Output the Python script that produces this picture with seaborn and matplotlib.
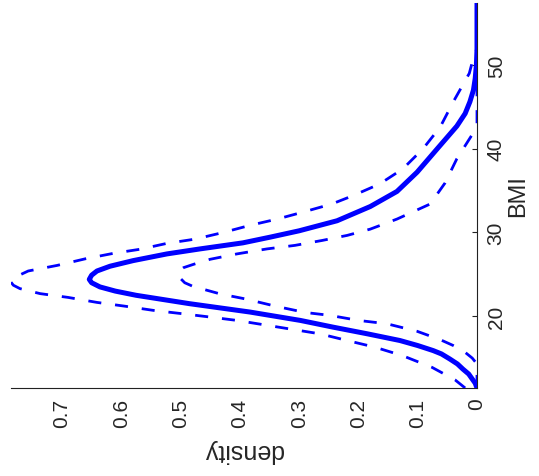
import matplotlib
matplotlib.use("Agg")
import matplotlib.pyplot as plt
import seaborn as sns

# Posterior density of BMI: mean curve and the two band limits
bmi_mean = [11.43, 12.0, 12.5, 13.1, 13.7, 14.3, 14.9, 15.5, 15.9, 16.5, 17.1, 17.9,
            18.7, 19.5, 20.5, 21.5, 22.5, 23.0, 23.5, 24.0, 24.4, 24.9, 25.4, 25.97,
            26.64, 27.44, 28.04, 28.76, 29.44, 30.2, 31.4, 33.1, 34.9, 37.2, 40.0,
            42.7, 44.2, 45.6, 47.0, 48.4, 50.0, 51.9, 57.4]
dens_mean = [0.0, 0.003, 0.008, 0.014, 0.024, 0.033, 0.046, 0.060, 0.074, 0.100, 0.130, 0.185,
             0.243, 0.298, 0.383, 0.485, 0.575, 0.610, 0.636, 0.650, 0.654, 0.650, 0.641, 0.619,
             0.580, 0.523, 0.467, 0.395, 0.349, 0.300, 0.236, 0.180, 0.135, 0.101, 0.067,
             0.034, 0.020, 0.012, 0.006, 0.003, 0.001, 0.0, 0.0]

bmi_hi = [11.43, 12.4, 13.9, 15.3, 16.3, 17.1, 17.9, 18.7, 19.5, 19.9, 20.3, 20.7,
          21.2, 21.65, 22.25, 22.7, 23.3, 23.7, 24.06, 24.4, 24.7, 25.0, 25.4, 26.07,
          26.85, 27.5, 28.0, 28.7, 29.2, 30.0, 30.85, 31.6, 32.5, 33.4, 34.4, 35.8,
          37.6, 40.0, 42.6, 45.6, 49.0, 50.6, 52.0, 57.4]
dens_hi = [0.020, 0.037, 0.076, 0.126, 0.172, 0.219, 0.265, 0.335, 0.405, 0.450, 0.497, 0.546,
           0.594, 0.641, 0.690, 0.737, 0.771, 0.782, 0.786, 0.785, 0.778, 0.769, 0.757, 0.708,
           0.661, 0.614, 0.568, 0.523, 0.476, 0.428, 0.383, 0.337, 0.290, 0.245, 0.209, 0.164,
           0.125, 0.091, 0.062, 0.040, 0.013, 0.007, 0.0, 0.0]

bmi_lo = [11.43, 14.3, 15.0, 15.8, 16.5, 17.2, 18.2, 19.1, 19.5, 20.1, 20.45, 21.2,
          22.07, 22.66, 23.56, 24.0, 24.5, 25.0, 25.4, 25.8, 26.2, 26.8, 27.44, 28.04,
          28.46, 29.05, 29.65, 30.4, 31.6, 33.4, 35.9, 38.8, 41.7, 43.0, 57.4]
dens_lo = [0.0, 0.0, 0.008, 0.022, 0.040, 0.062, 0.101, 0.152, 0.200, 0.248, 0.290, 0.340,
           0.391, 0.433, 0.479, 0.493, 0.500, 0.503, 0.503, 0.495, 0.478, 0.450, 0.405, 0.354,
           0.307, 0.261, 0.219, 0.180, 0.135, 0.079, 0.054, 0.034, 0.008, 0.0, 0.0]

density_ticks = [0, 0.1, 0.2, 0.3, 0.4, 0.5, 0.6, 0.7]
density_labels = ["0", "0.1", "0.2", "0.3", "0.4", "0.5", "0.6", "0.7"]
bmi_ticks = [20, 30, 40, 50]
bmi_labels = ["20", "30", "40", "50"]

sns.set_style("white")
plt.rcParams["font.family"] = ["Liberation Sans", "DejaVu Sans"]

W, H = 539, 477
fig = plt.figure(figsize=(W / 100, H / 100), dpi=100)
ax = fig.add_axes([11 / W, 1 - 389 / H, (477 - 11) / W, (389 - 4) / H])

blue = "#0000ff"
dash = (0, (4.7, 5.0))
band_style = dict(sort=False, estimator=None, orient="y", color=blue, lw=2.0,
                  linestyle=dash, dash_capstyle="butt", ax=ax, zorder=3)
sns.lineplot(x=dens_hi, y=bmi_hi, **band_style)
sns.lineplot(x=dens_lo, y=bmi_lo, **band_style)
sns.lineplot(x=dens_mean, y=bmi_mean, sort=False, estimator=None, orient="y",
             color=blue, lw=3.6, solid_joinstyle="round", ax=ax, zorder=4)

ax.set_xlim(0.786, 0.0)
ax.set_ylim(11.43, 57.4)

for side in ("top", "left"):
    ax.spines[side].set_visible(False)
for side in ("bottom", "right"):
    ax.spines[side].set_color("#222222")
    ax.spines[side].set_linewidth(0.8)

ax.yaxis.tick_right()
ax.yaxis.set_label_position("right")

ax.set_xticks(density_ticks)
ax.set_xticklabels(density_labels, rotation=90, fontsize=15)
ax.set_yticks(bmi_ticks)
ax.set_yticklabels(bmi_labels, rotation=90, fontsize=15, va="center")
ax.tick_params(axis="both", direction="in", length=3.6, width=0.8,
               color="#222222", pad=7)

ax.set_xlabel("density", rotation=180, fontsize=18, labelpad=8)
ax.set_ylabel("BMI", rotation=90, fontsize=17, labelpad=1)

fig.savefig("out.png", dpi=100)
